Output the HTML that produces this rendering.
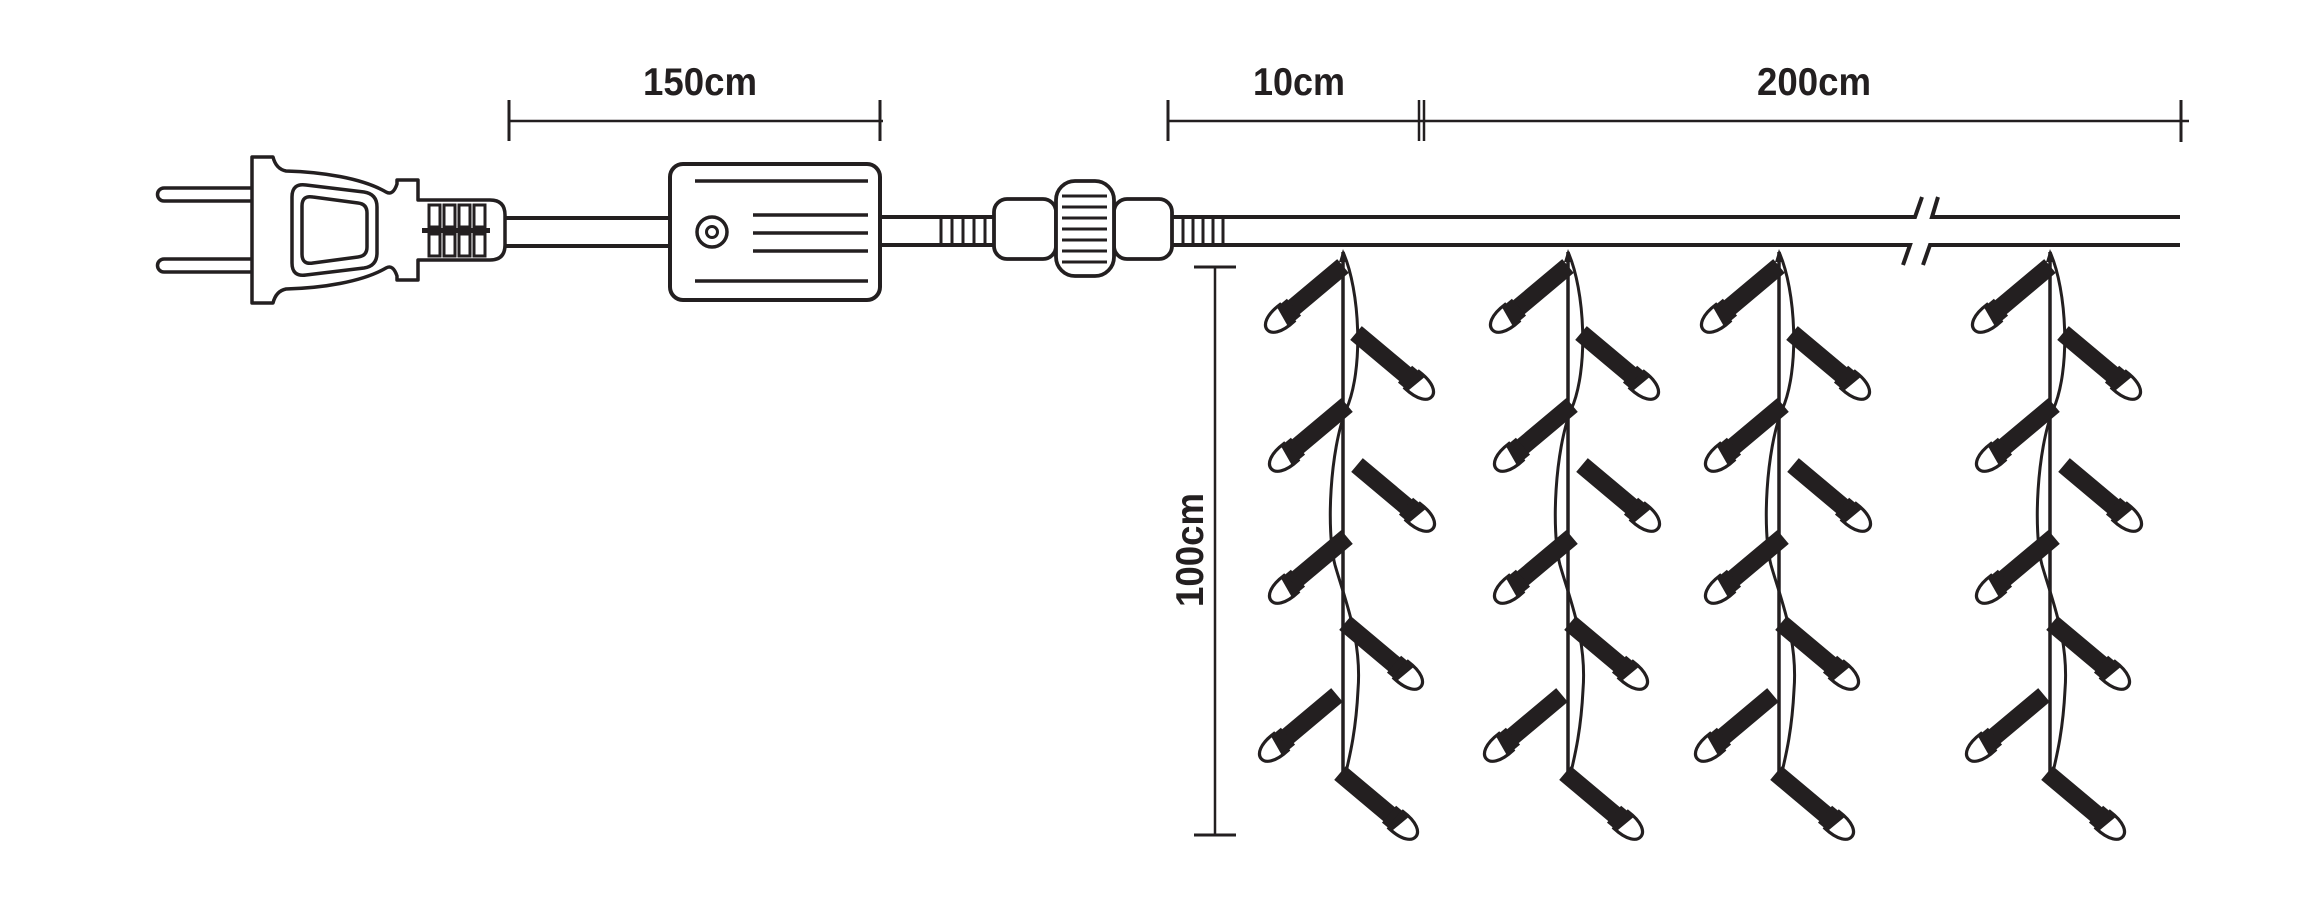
<!DOCTYPE html>
<html>
<head>
<meta charset="utf-8">
<style>
  html, body { margin: 0; padding: 0; background: #ffffff; }
  svg { display: block; }
  .lbl { font-family: "Liberation Sans", "DejaVu Sans", sans-serif; font-weight: bold; font-size: 39px; fill: #231f20; }
</style>
</head>
<body>
<svg width="2311" height="900" viewBox="0 0 2311 900" xmlns="http://www.w3.org/2000/svg">
  <rect width="2311" height="900" fill="#ffffff"/>
  <defs>
    <g id="bulb">
      <rect x="0" y="-9" width="74" height="18" fill="#231f20"/>
      <rect x="64" y="-11" width="10" height="22" fill="#231f20"/>
      <path d="M73,-11 C91,-12 99,-6 99,0 C99,6 91,12 73,11 Z" fill="#ffffff" stroke="#231f20" stroke-width="3.2"/>
      <path d="M71,-11 L81,-11 L77,11 L71,11 Z" fill="#231f20"/>
    </g>
    <g id="strand">
      <line x1="0" y1="252" x2="0" y2="776" stroke="#231f20" stroke-width="3.5"/>
      <path d="M0,252 C17,290 21,370 3,410 C-13,450 -17,530 -8,565 C2,600 19,640 15,690 C13,730 7,755 3,772" fill="none" stroke="#231f20" stroke-width="3"/>
      <polygon points="-4,262 0,249 5,262" fill="#231f20"/>
      <use href="#bulb" transform="translate(0,266) rotate(140)"/>
      <use href="#bulb" transform="translate(13,333) rotate(40)"/>
      <use href="#bulb" transform="translate(4,405) rotate(140)"/>
      <use href="#bulb" transform="translate(14,465) rotate(40)"/>
      <use href="#bulb" transform="translate(4,537) rotate(140)"/>
      <use href="#bulb" transform="translate(2,623) rotate(40)"/>
      <use href="#bulb" transform="translate(-6,695) rotate(140)"/>
      <use href="#bulb" transform="translate(-3,773) rotate(40)"/>
    </g>
  </defs>

  <!-- Dimension 150cm -->
  <g stroke="#231f20" fill="none">
    <line x1="509" y1="121" x2="883" y2="121" stroke-width="2.5"/>
    <line x1="509" y1="100" x2="509" y2="141" stroke-width="3"/>
    <line x1="880" y1="100" x2="880" y2="141" stroke-width="3"/>
  </g>
  <text class="lbl" x="700" y="95" text-anchor="middle" textLength="114" lengthAdjust="spacingAndGlyphs">150cm</text>

  <!-- Dimension 10cm / 200cm -->
  <g stroke="#231f20" fill="none">
    <line x1="1168" y1="121" x2="2189" y2="121" stroke-width="2.5"/>
    <line x1="1168" y1="100" x2="1168" y2="141" stroke-width="3"/>
    <line x1="1419" y1="100" x2="1419" y2="141" stroke-width="2.5"/>
    <line x1="1424" y1="100" x2="1424" y2="141" stroke-width="2.5"/>
    <line x1="2181" y1="100" x2="2181" y2="142" stroke-width="3"/>
  </g>
  <text class="lbl" x="1299" y="95" text-anchor="middle" textLength="92" lengthAdjust="spacingAndGlyphs">10cm</text>
  <text class="lbl" x="1814" y="95" text-anchor="middle" textLength="114" lengthAdjust="spacingAndGlyphs">200cm</text>

  <!-- Dimension 100cm vertical -->
  <g stroke="#231f20" fill="none">
    <line x1="1215" y1="267" x2="1215" y2="836" stroke-width="2.5"/>
    <line x1="1194" y1="267" x2="1236" y2="267" stroke-width="3"/>
    <line x1="1194" y1="835" x2="1236" y2="835" stroke-width="3"/>
  </g>
  <text class="lbl" transform="translate(1203,550) rotate(-90)" x="0" y="0" text-anchor="middle" textLength="114" lengthAdjust="spacingAndGlyphs">100cm</text>

  <!-- Plug prongs -->
  <g stroke="#231f20" stroke-width="3.5" fill="#ffffff">
    <path d="M254,188 L164,188 A6.5,6.5 0 0 0 164,201 L254,201"/>
    <path d="M254,259 L164,259 A6.5,6.5 0 0 0 164,272 L254,272"/>
  </g>
  <!-- Plug body -->
  <path d="M252,157 L273,157 Q276,169 286,171 C322,172 362,178 386,192 Q393,196 397,184 L397,180 L418,180 L418,200 L490,200 Q505,200 505,215 L505,245 Q505,260 490,260 L418,260 L418,280 L397,280 L397,276 Q393,264 386,268 C362,282 322,288 286,289 Q276,291 273,303 L252,303 Z" fill="#ffffff" stroke="#231f20" stroke-width="3.5" stroke-linejoin="round"/>
  <path d="M306,185 L364,192 Q377,194 377,207 L377,253 Q377,266 364,268 L306,275 Q292,277 292,263 L292,197 Q292,183 306,185 Z" fill="none" stroke="#231f20" stroke-width="3.5"/>
  <path d="M313,197 L358,203 Q367,204 367,213 L367,247 Q367,256 358,257 L313,263 Q302,265 302,254 L302,206 Q302,195 313,197 Z" fill="none" stroke="#231f20" stroke-width="3.5"/>
  <!-- Plug ribs -->
  <rect x="422" y="228" width="68" height="5" fill="#231f20"/>
  <g stroke="#231f20" stroke-width="3" fill="#ffffff">
    <rect x="429" y="205" width="11" height="22"/>
    <rect x="444" y="205" width="11" height="22"/>
    <rect x="459" y="205" width="11" height="22"/>
    <rect x="474" y="205" width="11" height="22"/>
    <rect x="429" y="234" width="11" height="22"/>
    <rect x="444" y="234" width="11" height="22"/>
    <rect x="459" y="234" width="11" height="22"/>
    <rect x="474" y="234" width="11" height="22"/>
  </g>

  <!-- Cable plug to box -->
  <g stroke="#231f20" stroke-width="4">
    <line x1="505" y1="218" x2="668" y2="218"/>
    <line x1="505" y1="246" x2="668" y2="246"/>
  </g>

  <!-- Control box -->
  <rect x="670" y="164" width="210" height="136" rx="13" ry="13" fill="#ffffff" stroke="#231f20" stroke-width="4"/>
  <g stroke="#231f20" stroke-width="3.5">
    <line x1="695" y1="181" x2="868" y2="181"/>
    <line x1="753" y1="215" x2="868" y2="215"/>
    <line x1="753" y1="233" x2="868" y2="233"/>
    <line x1="753" y1="251" x2="868" y2="251"/>
    <line x1="695" y1="281" x2="868" y2="281"/>
  </g>
  <circle cx="712" cy="232" r="15" fill="none" stroke="#231f20" stroke-width="3.5"/>
  <circle cx="712" cy="232" r="5.5" fill="none" stroke="#231f20" stroke-width="3"/>

  <!-- Cable box to connector -->
  <g stroke="#231f20" stroke-width="4">
    <line x1="882" y1="217" x2="994" y2="217"/>
    <line x1="882" y1="245" x2="994" y2="245"/>
  </g>
  <g stroke="#231f20" stroke-width="3">
    <line x1="941" y1="217" x2="941" y2="245"/>
    <line x1="952" y1="217" x2="952" y2="245"/>
    <line x1="963" y1="217" x2="963" y2="245"/>
    <line x1="974" y1="217" x2="974" y2="245"/>
    <line x1="985" y1="217" x2="985" y2="245"/>
  </g>

  <!-- Connector -->
  <rect x="994" y="199" width="62" height="60" rx="13" ry="13" fill="#ffffff" stroke="#231f20" stroke-width="3.8"/>
  <rect x="1114" y="199" width="58" height="60" rx="13" ry="13" fill="#ffffff" stroke="#231f20" stroke-width="3.8"/>
  <rect x="1056" y="181" width="58" height="95" rx="19" ry="19" fill="#ffffff" stroke="#231f20" stroke-width="3.8"/>
  <g stroke="#231f20" stroke-width="3">
    <line x1="1062" y1="196" x2="1107" y2="196"/>
    <line x1="1062" y1="207" x2="1107" y2="207"/>
    <line x1="1062" y1="218" x2="1107" y2="218"/>
    <line x1="1062" y1="229" x2="1107" y2="229"/>
    <line x1="1062" y1="240" x2="1107" y2="240"/>
    <line x1="1062" y1="251" x2="1107" y2="251"/>
    <line x1="1062" y1="262" x2="1107" y2="262"/>
  </g>

  <!-- Main wire after connector -->
  <g stroke="#231f20" stroke-width="3">
    <line x1="1183" y1="217" x2="1183" y2="245"/>
    <line x1="1193" y1="217" x2="1193" y2="245"/>
    <line x1="1203" y1="217" x2="1203" y2="245"/>
    <line x1="1213" y1="217" x2="1213" y2="245"/>
    <line x1="1223" y1="217" x2="1223" y2="245"/>
  </g>
  <g stroke="#231f20" stroke-width="4" fill="none">
    <polyline points="1172,217 1915,217 1922,197"/>
    <polyline points="1938,197 1932,217 2180,217"/>
    <polyline points="1172,245 1910,245 1903,265"/>
    <polyline points="1923,265 1930,245 2180,245"/>
  </g>

  <!-- Strands -->
  <use href="#strand" transform="translate(1343,0)"/>
  <use href="#strand" transform="translate(1568,0)"/>
  <use href="#strand" transform="translate(1779,0)"/>
  <use href="#strand" transform="translate(2050,0)"/>
</svg>
</body>
</html>
